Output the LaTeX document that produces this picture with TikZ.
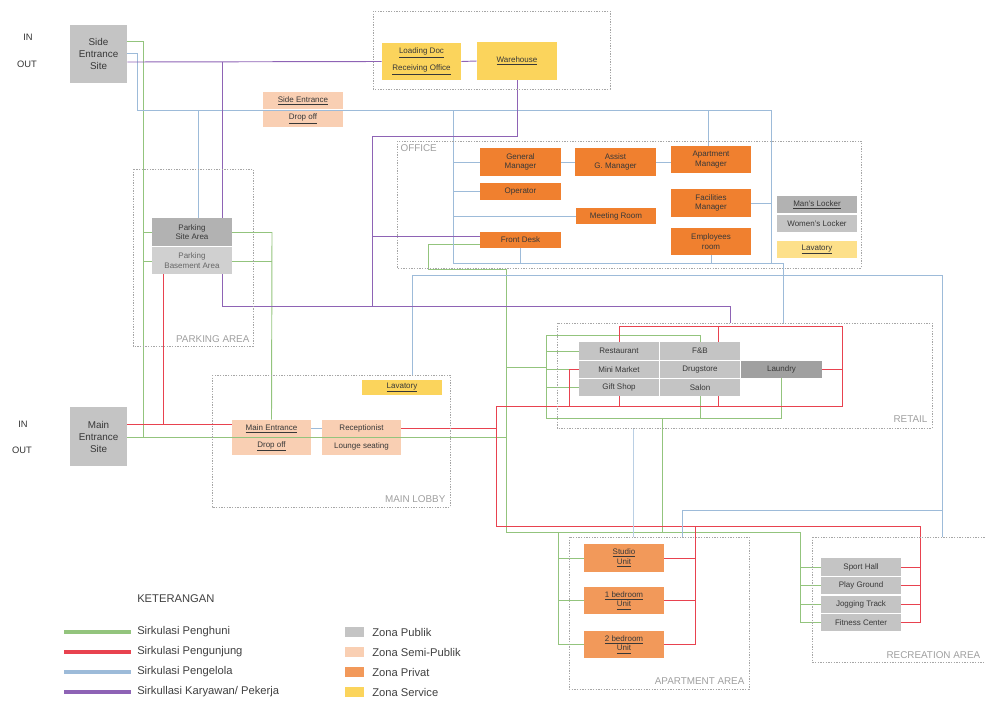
\documentclass[tikz,border=0pt]{standalone}
\usepackage{fontspec}
\setmainfont{Liberation Sans}
\usetikzlibrary{backgrounds}
\definecolor{cpub}{HTML}{C4C4C4}
\definecolor{cpubd}{HTML}{B2B2B2}
\definecolor{csemi}{HTML}{F9CFB3}
\definecolor{cpriv}{HTML}{F0802F}
\definecolor{cprivl}{HTML}{F2995A}
\definecolor{cserv}{HTML}{FBD45C}
\definecolor{cservl}{HTML}{FDE08A}
\definecolor{cg}{HTML}{93C47D}
\definecolor{cr}{HTML}{E8424F}
\definecolor{cb}{HTML}{9DBBD9}
\definecolor{cp}{HTML}{8E63B5}
\newcommand{\zbox}[7]{\node[zb,#6,minimum width={(#4-#2)*0.75pt},minimum height={(#5-#3)*0.75pt}] (#1) at ({(#2+#4)/2},{(#3+#5)/2}) {#7};}
\begin{document}
\begin{tikzpicture}[x=0.75pt,y=-0.75pt,
  font=\fontsize{6}{7.2}\selectfont,
  zb/.style={draw=none,inner sep=0pt,align=center,text=black!78},
  area/.style={draw=gray!70,dash pattern=on 1pt off 1pt,line width=0.6pt},
  arealbl/.style={text=gray!75,font=\fontsize{7.4}{8}\selectfont,inner sep=1pt},
  ln/.style={line width=0.7pt},
  g/.style={ln,draw=cg}, r/.style={ln,draw=cr}, b/.style={ln,draw=cb}, p/.style={ln,draw=cp},
  lg/.style={line width=2.4pt},
  io/.style={font=\fontsize{7}{8}\selectfont,text=black!80},
  leg/.style={font=\fontsize{8.4}{10}\selectfont,text=black!75,anchor=west,inner sep=0pt}]
\useasboundingbox (0,0) rectangle (985,700);
\clip (0,0) rectangle (985,700);

% ---------- entrances
\node[io] (in1) at (28,37) {IN};
\node[io] (out1) at (27,64) {OUT};
\node[io] (in2) at (23,424) {IN};
\node[io] (out2) at (22,450) {OUT};
\zbox{sideE}{70}{25}{127}{83}{fill=cpub,font=\fontsize{7.4}{9}\selectfont}{Side\\Entrance\\Site}
\zbox{mainE}{70}{407}{127}{466}{fill=cpub,font=\fontsize{7.4}{9}\selectfont}{Main\\Entrance\\Site}

% ---------- service area
\draw[area] (373,11) rectangle (610,89);
\zbox{ld}{382}{43}{461}{80}{fill=cserv}{\underline{Loading Doc}\\[4pt]\underline{Receiving Office}}
\zbox{wh}{477}{42}{557}{80}{fill=cserv}{\underline{Warehouse}}

% ---------- side entrance drop off
\zbox{sent}{263}{92}{343}{109}{fill=csemi}{\underline{Side Entrance}}
\zbox{sdrop}{263}{111}{343}{127}{fill=csemi}{\underline{Drop off}}

% ---------- parking
\draw[area] (133,169) rectangle (253,346);
\node[arealbl,anchor=south east] (plbl) at (251,344) {PARKING AREA};
\zbox{psite}{152}{218}{232}{246}{fill=cpubd}{Parking\\Site Area}
\zbox{pbase}{152}{247}{232}{274}{fill=cpub!80,text=black!60}{Parking\\Basement Area}

% ---------- office
\draw[area] (397,141) rectangle (861,268);
\node[arealbl,anchor=north west] (olbl) at (399,143) {OFFICE};
\zbox{gm}{480}{148}{561}{176}{fill=cpriv}{General\\Manager}
\zbox{agm}{575}{148}{656}{176}{fill=cpriv}{Assist\\G. Manager}
\zbox{am}{671}{146}{751}{173}{fill=cpriv}{Apartment\\Manager}
\zbox{op}{480}{183}{561}{200}{fill=cpriv}{Operator}
\zbox{mr}{576}{208}{656}{224}{fill=cpriv}{Meeting Room}
\zbox{fm}{671}{189}{751}{217}{fill=cpriv}{Facilities\\Manager}
\zbox{fd}{480}{232}{561}{248}{fill=cpriv}{Front Desk}
\zbox{er}{671}{228}{751}{255}{fill=cpriv}{Employees\\room}
\zbox{ml}{777}{196}{857}{213}{fill=cpubd}{\underline{Man's Locker}}
\zbox{wl}{777}{215}{857}{232}{fill=cpub}{Women's Locker}
\zbox{lav1}{777}{241}{857}{258}{fill=cservl}{\underline{Lavatory}}

% ---------- main lobby
\draw[area] (212,375) rectangle (450,507);
\node[arealbl,anchor=south east] (mlbl) at (447,504) {MAIN LOBBY};
\zbox{lav2}{362}{380}{442}{395}{fill=cserv}{\underline{Lavatory}}
\zbox{me}{232}{420}{311}{437}{fill=csemi}{\underline{Main Entrance}}
\zbox{md}{232}{438}{311}{455}{fill=csemi}{\underline{Drop off}}
\zbox{rc}{322}{420}{401}{437}{fill=csemi}{Receptionist}
\zbox{ls}{322}{438}{401}{455}{fill=csemi}{Lounge seating}

% ---------- retail
\draw[area] (557,323) rectangle (932,428);
\node[arealbl,anchor=south east] (rlbl) at (929,424) {RETAIL};
\zbox{rest}{579}{342}{659}{360}{fill=cpub}{Restaurant}
\zbox{fb}{660}{342}{740}{360}{fill=cpub}{F\&B}
\zbox{mm}{579}{361}{659}{378}{fill=cpub}{Mini Market}
\zbox{ds}{660}{361}{740}{378}{fill=cpub}{Drugstore}
\zbox{gs}{579}{379}{659}{396}{fill=cpub}{Gift Shop}
\zbox{sa}{660}{379}{740}{396}{fill=cpub}{Salon}
\zbox{la}{741}{361}{822}{378}{fill=cpubd!90!black}{Laundry}

% ---------- apartment
\draw[area] (569,537) rectangle (749,689);
\node[arealbl,anchor=south east] (albl) at (746,686) {APARTMENT AREA};
\zbox{st}{584}{544}{664}{572}{fill=cprivl}{\underline{Studio}\\\underline{Unit}}
\zbox{b1}{584}{587}{664}{614}{fill=cprivl}{\underline{1 bedroom}\\\underline{Unit}}
\zbox{b2}{584}{631}{664}{658}{fill=cprivl}{\underline{2 bedroom}\\\underline{Unit}}

% ---------- recreation
\draw[area] (812,537) rectangle (1000,662);
\node[arealbl,anchor=south west] (rclbl) at (885,660) {RECREATION AREA};
\zbox{sh}{821}{558}{901}{576}{fill=cpub}{Sport Hall}
\zbox{pg}{821}{577}{901}{594}{fill=cpub}{Play Ground}
\zbox{jt}{821}{596}{901}{613}{fill=cpub}{Jogging Track}
\zbox{fc}{821}{614}{901}{631}{fill=cpub}{Fitness Center}

% ---------- legend
\node[leg] (ket) at (137,599) {KETERANGAN};
\coordinate (l1a) at (64,632); \coordinate (l1b) at (131,632);
\coordinate (l2a) at (64,652); \coordinate (l2b) at (131,652);
\coordinate (l3a) at (64,672); \coordinate (l3b) at (131,672);
\coordinate (l4a) at (64,692); \coordinate (l4b) at (131,692);
\draw[lg,draw=cg] (l1a) -- (l1b);
\draw[lg,draw=cr] (l2a) -- (l2b);
\draw[lg,draw=cb] (l3a) -- (l3b);
\draw[lg,draw=cp] (l4a) -- (l4b);
\node[leg] (t1) at (137,632) {Sirkulasi Penghuni};
\node[leg] (t2) at (137,652) {Sirkulasi Pengunjung};
\node[leg] (t3) at (137,672) {Sirkulasi Pengelola};
\node[leg] (t4) at (137,692) {Sirkullasi Karyawan/ Pekerja};
\zbox{s1}{345}{627}{364}{637}{fill=cpub}{}
\zbox{s2}{345}{647}{364}{657}{fill=csemi}{}
\zbox{s3}{345}{667}{364}{677}{fill=cprivl}{}
\zbox{s4}{345}{687}{364}{697}{fill=cserv}{}
\node[leg] (z1) at (372,632) {Zona Publik};
\node[leg] (z2) at (372,652) {Zona Semi-Publik};
\node[leg] (z3) at (372,672) {Zona Privat};
\node[leg] (z4) at (372,692) {Zona Service};

% ---------- connectors
\begin{pgfonlayer}{background}
% green: residents
\draw[g] (sideE.east |- 0,41) -| (143,437);
\draw[g] (mainE.east |- 0,437) -- (506,437);
\draw[g] (143,232) -- (psite.west |- 0,232);
\draw[g] (143,261) -- (pbase.west |- 0,261);
\draw[g] (psite.east |- 0,232) -- (272,232);
\draw[g] (pbase.east |- 0,261) -- (272,261);
\draw[g] (272,232) -- (me.north);
\draw[g] (fd.west |- 0,244) -| (428,269) -- (506,269) -- (506,532);
\draw[g] (506,367) -- (546,367);
\draw[g] (546,335) -- (546,418) -- (781.5,418) -- (la.south);
\draw[g] (546,335) -| (fb.north);
\draw[g] (546,351) -- (rest.west);
\draw[g] (546,369.5) -- (mm.west);
\draw[g] (546,387.5) -- (gs.west);
\draw[g] (sa.south) -- (sa.south |- 0,418);
\draw[g] (662,418) -- (662,532);
\draw[g] (506,532) -- (800,532) -- (800,622.5);
\draw[g] (558,532) -- (558,644.5);
\draw[g] (558,558) -- (st.west);
\draw[g] (558,600.5) -- (b1.west);
\draw[g] (558,644.5) -- (b2.west);
\draw[g] (800,567) -- (sh.west);
\draw[g] (800,585.5) -- (pg.west);
\draw[g] (800,604.5) -- (jt.west);
\draw[g] (800,622.5) -- (fc.west);
% red: visitors
\draw[r] (pbase.south -| 163,0) -- (163,424);
\draw[r] (mainE.east |- 0,424) -- (me.west |- 0,424);
\draw[r] (rc.east) -- (496,428.5);
\draw[r] (496,406) -- (496,526);
\draw[r] (496,406) -- (842,406) -- (842,326) -- (619,326) -- (rest.north);
\draw[r] (718,326) -- (718,342);
\draw[r] (la.east) -- (842,369.5);
\draw[r] (gs.south) -- (gs.south |- 0,406);
\draw[r] (718,396) -- (718,406);
\draw[r] (mm.west) -- (569,369.5) -- (569,406);
\draw[r] (496,526) -- (920,526) -- (920,622.5);
\draw[r] (695,526) -- (695,644.5);
\draw[r] (st.east) -- (695,558);
\draw[r] (b1.east) -- (695,600.5);
\draw[r] (b2.east) -- (695,644.5);
\draw[r] (sh.east) -- (920,567);
\draw[r] (pg.east) -- (920,585.5);
\draw[r] (jt.east) -- (920,604.5);
\draw[r] (fc.east) -- (920,622.5);
% blue: management
\draw[b] (sideE.east |- 0,53) -| (137,110) -- (771,110) -- (771,263);
\draw[b] (198,110) -- (198,218);
\draw[b] (453,110) -- (453,263) -- (783,263) -- (783,323);
\draw[b] (708,110) -- (708,146);
\draw[b] (453,162) -- (gm.west);
\draw[b] (gm.east) -- (agm.west);
\draw[b] (agm.east) -- (agm.east -| am.west);
\draw[b] (453,191.5) -- (op.west);
\draw[b] (453,216) -- (mr.west);
\draw[b] (fm.east) -- (771,203);
\draw[b] (fd.south) -- (fd.south |- 0,263);
\draw[b] (er.south) -- (er.south |- 0,263);
\draw[b] (412,375) -- (412,275) -- (942,275) -- (942,537);
\draw[b] (942,510) -- (682,510) -- (682,537);
\draw[b] (me.east) -- (rc.west);
\draw[b,cb!70] (633,428) -- (633,537);
% purple: employees
\draw[p] (sideE.east |- 0,62) -- (ld.west);
\draw[p] (ld.east) -- (wh.west);
\draw[p] (wh.south) -- (wh.south |- 0,136) -- (372,136) -- (372,306);
\draw[p] (372,236) -- (fd.west |- 0,236);
\draw[p] (222,62) -- (222,218);
\draw[p] (222,274) -- (222,306) -- (730,306) -- (730,323);
\end{pgfonlayer}
\end{tikzpicture}
\end{document}
